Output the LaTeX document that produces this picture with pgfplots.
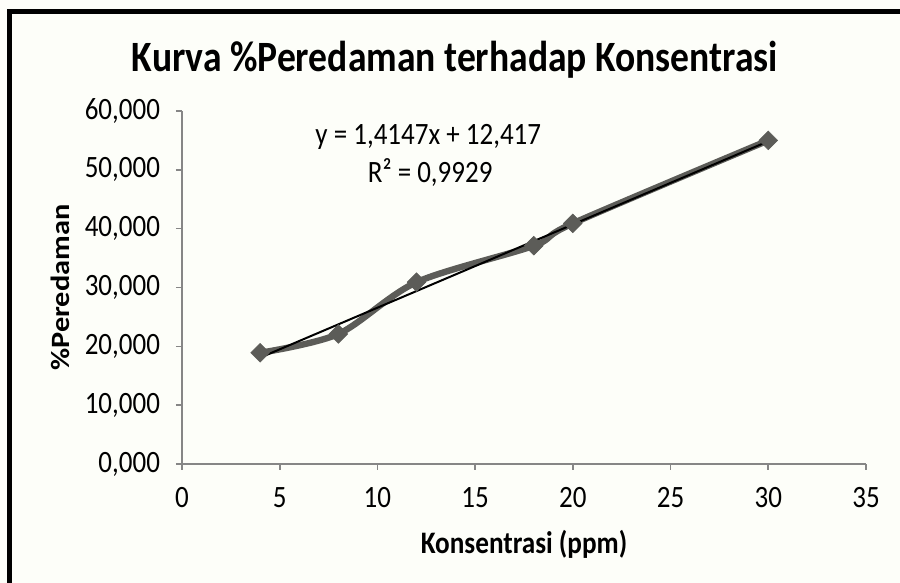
\documentclass[border=0pt]{standalone}
\usepackage{pgfplots}
\pgfplotsset{compat=1.18}
\usepackage{fontspec}
\setmainfont{Carlito}
\definecolor{bg}{RGB}{253,254,249}
\definecolor{ser}{RGB}{92,92,88}
\definecolor{axgray}{RGB}{134,134,134}
\begin{document}
\begin{tikzpicture}[x=0.5pt,y=0.5pt]
\fill[bg] (0,0) rectangle (900,583);
\path[use as bounding box] (0,0) rectangle (900,583);
\draw[black, line width=2.5pt] (9.5,0) -- (9.5,571) -- (900,571);
\begin{axis}[
  at={(91pt,59.5pt)}, anchor=south west,
  scale only axis, width=342pt, height=176.5pt,
  xmin=0, xmax=35, ymin=0, ymax=60,
  xtick={0,5,...,35}, ytick={0,10,...,60},
  axis lines*=left,
  axis line style={axgray, line width=0.8pt},
  tick style={axgray, line width=0.8pt},
  tick align=outside, major tick length=3pt,
  /pgf/number format/assume math mode=true,
  yticklabel style={/pgf/number format/fixed, /pgf/number format/fixed zerofill, /pgf/number format/precision=3, /pgf/number format/use comma, /pgf/number format/1000 sep={}, xshift=-4.5pt},
  every tick label/.append style={font=\fontsize{13.5}{16}\selectfont, yscale=1.15},
  xticklabel style={yshift=-4pt},
  title={\fontsize{18.8}{22}\selectfont\bfseries Kurva \%Peredaman terhadap Konsentrasi},
  title style={at={(axis description cs:0.399,1.11)}, anchor=center, yscale=1.15},
  xlabel={\bfseries Konsentrasi (ppm)},
  xlabel style={at={(axis description cs:0.5,-0.229)}, anchor=center, font=\fontsize{13.6}{16}\selectfont, yscale=1.15},
  ylabel={\bfseries \%Peredaman},
  ylabel style={at={(axis description cs:-0.178,0.5)}, anchor=center, font=\fontsize{13.2}{16}\selectfont, xscale=1.15},
  clip=false,
]
\addplot[ser, line width=3.2pt, smooth, tension=0.5, mark=square*, mark size=3.3pt,
  mark options={rotate=45, fill=ser, draw=ser, line width=0.3pt}]
  coordinates {(4,18.9) (8,22.1) (12,30.9) (18,37.1) (20,40.9) (30,55.0)};
\addplot[black, line width=1pt] coordinates {(4,18.076) (30,54.858)};
\node[font=\fontsize{13.5}{16}\selectfont, yscale=1.15] at (axis cs:12.6,55.6) {y = 1,4147x + 12,417};
\node[font=\fontsize{13.5}{16}\selectfont, yscale=1.15] at (axis cs:12.7,49.5) {R² = 0,9929};
\end{axis}
\end{tikzpicture}
\end{document}
